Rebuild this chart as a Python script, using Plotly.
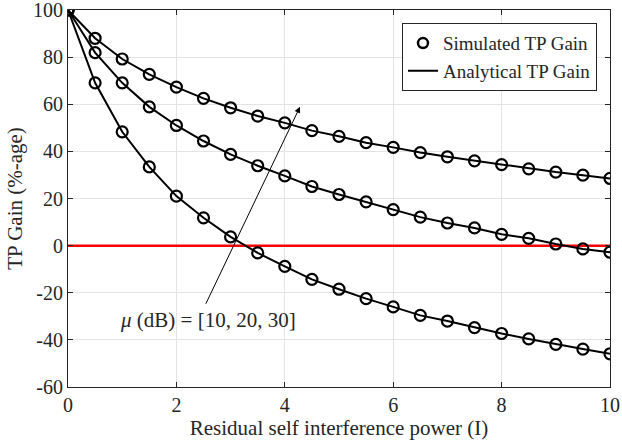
import plotly.graph_objects as go

x_vals = [0, 0.5, 1, 1.5, 2, 2.5, 3, 3.5, 4, 4.5, 5, 5.5, 6, 6.5, 7, 7.5, 8, 8.5, 9, 9.5, 10]
gain_mu30 = [100, 88.0, 79.2, 72.7, 67.3, 62.5, 58.5, 55.0, 52.1, 48.8, 46.4, 43.7, 41.7, 39.5, 37.7, 36.0, 34.4, 32.6, 31.2, 29.9, 28.5]
gain_mu20 = [100, 81.9, 69.1, 58.9, 51.0, 44.4, 38.7, 33.9, 29.6, 25.1, 21.7, 18.6, 15.3, 12.1, 9.6, 7.5, 4.8, 3.1, 0.7, -1.4, -2.8]
gain_mu10 = [100, 69.1, 48.3, 33.4, 21.0, 11.8, 3.7, -3.1, -8.8, -14.3, -18.5, -22.5, -26.0, -29.6, -32.0, -34.8, -37.3, -39.6, -41.9, -43.9, -45.9]
zero_x = [0, 10]
zero_y = [0, 0]
x_ticks = [0, 2, 4, 6, 8, 10]
y_ticks = [-60, -40, -20, 0, 20, 40, 60, 80, 100]
y_tick_labels = ["-60", "-40", "-20", "0", "20", "40", "60", "80", "100"]

FONT = "Liberation Serif"
TXT = "#262626"
fig = go.Figure()

fig.add_trace(go.Scatter(x=zero_x, y=zero_y, mode="lines",
                         line=dict(color="#ff0000", width=2.5), showlegend=False))

for s in [gain_mu30, gain_mu20, gain_mu10]:
    fig.add_trace(go.Scatter(x=x_vals, y=s, mode="lines+markers",
                             line=dict(color="black", width=2),
                             marker=dict(symbol="circle-open", size=11, color="black",
                                         line=dict(width=2.2, color="black")),
                             showlegend=False))

fig.add_trace(go.Scatter(x=[None], y=[None], mode="markers", name="Simulated TP Gain",
                         marker=dict(symbol="circle-open", size=10, color="black",
                                     line=dict(width=2.5, color="black"))))
fig.add_trace(go.Scatter(x=[None], y=[None], mode="lines", name="Analytical TP Gain",
                         line=dict(color="black", width=2)))

fig.add_annotation(x=4.28, y=58.9, ax=2.53, ay=-25.3, xref="x", yref="y",
                   axref="x", ayref="y", text="", showarrow=True,
                   arrowhead=2, arrowsize=1.2, arrowwidth=1, arrowcolor="black")
fig.add_annotation(x=2.58, y=-31.4, xref="x", yref="y", showarrow=False,
                   text="<i>μ</i> (dB) = [10, 20, 30]",
                   font=dict(family=FONT, size=21, color=TXT))

axis_common = dict(showgrid=True, gridcolor="#e3e3e3", gridwidth=1,
                   showline=True, linecolor=TXT, linewidth=1, mirror="ticks",
                   ticks="inside", ticklen=5, tickcolor=TXT, zeroline=False,
                   automargin=False, ticklabeloverflow="allow",
                   tickfont=dict(family=FONT, size=20, color=TXT))

fig.update_xaxes(range=[0, 10], tickvals=x_ticks, **axis_common,
                 title=dict(text="Residual self interference power (I)",
                            font=dict(family=FONT, size=21, color=TXT), standoff=2))
fig.update_yaxes(range=[-60, 100], tickvals=y_ticks, ticktext=y_tick_labels, **axis_common,
                 title=dict(text="TP Gain (%-age)",
                            font=dict(family=FONT, size=21, color=TXT), standoff=4))

fig.update_layout(
    width=622, height=447,
    margin=dict(l=68, r=12, t=10, b=60),
    plot_bgcolor="white", paper_bgcolor="white",
    legend=dict(x=0.976, y=0.965, xanchor="right", yanchor="top",
                bgcolor="white", bordercolor=TXT, borderwidth=1,
                font=dict(family=FONT, size=19, color=TXT),
                tracegroupgap=0, itemwidth=30),
)

fig.write_html("out.html", config={"displayModeBar": False},
               post_script="document.body.style.margin='0';document.body.style.overflow='hidden';")
